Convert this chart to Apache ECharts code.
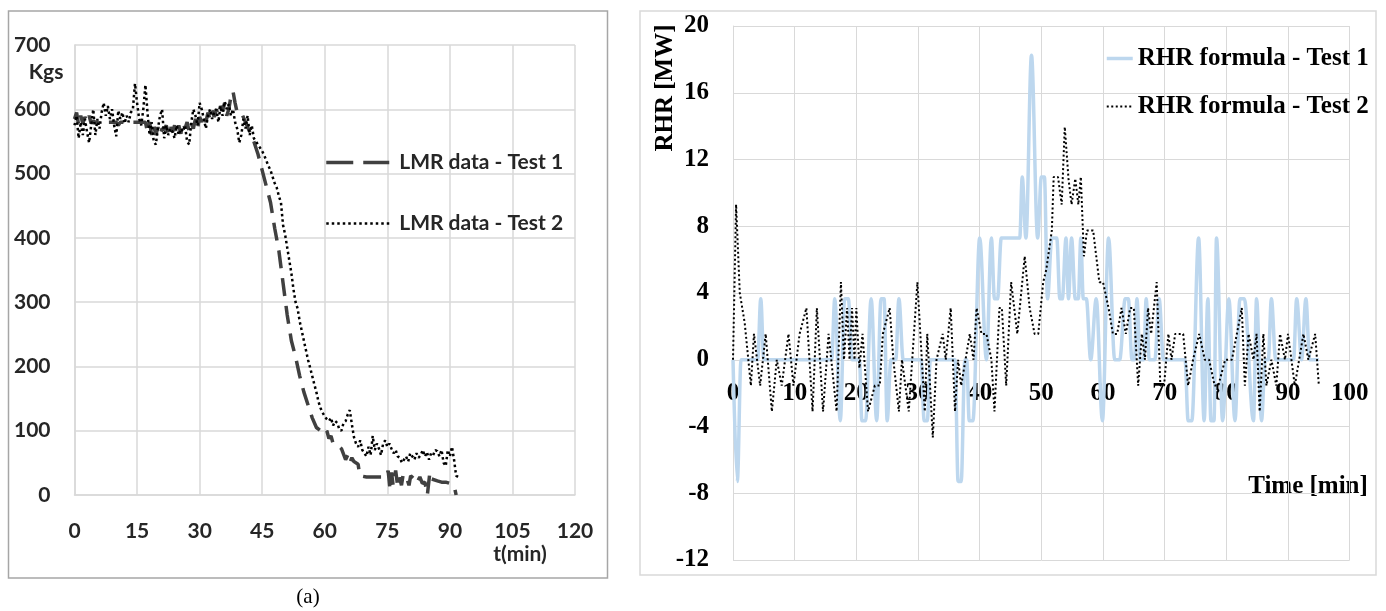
<!DOCTYPE html>
<html>
<head>
<meta charset="utf-8">
<title>LMR data and RHR formula</title>
<script src="https://cdn.jsdelivr.net/npm/echarts@6/dist/echarts.min.js"></script>
<style>
  html, body { margin: 0; padding: 0; background: #ffffff; }
  #chart { width: 1386px; height: 611px; }
</style>
</head>
<body>
<div id="chart"></div>
<script>
// ---- Panel (a): load-cell mass readings, kg against time in minutes ----
const lmrXAxis = { min: 0, max: 120, interval: 15 };
const lmrYAxis = { min: 0, max: 700, interval: 100 };

// Test 1: [time (min), mass (kg)]
const lmrTest1 = [
  [0,585],[0.5,595],[1,575],[1.5,590],[2,578],[2.5,588],[3,580],[3.5,590],[4,578],[4.5,582],
  [5,580],[10,580],[10.5,575],[11,580],[15,580],[17,580],[17.5,565],[18,580],[18.5,560],[19,575],
  [19.5,560],[20,572],[20.5,560],[21,570],[21.5,568],[22,575],[22.5,560],[23,572],[23.5,565],[24,575],
  [24.5,560],[25,575],[25.5,562],[26,580],[26.5,570],[27,580],[27.5,565],[28,578],[28.5,570],[29,585],
  [29.5,570],[30,588],[30.5,580],[31,592],[31.5,580],[32,595],[32.5,585],[33,598],[33.5,588],[34,600],
  [34.5,590],[35,605],[35.5,598],[36,610],[36.5,590],[37,600],[37.5,620],[38,628],[38.5,610],[39,595],
  [40,595],[41,580],[42,565],[43,550],[44,530],[45,505],[46,480],[47,455],[48,415],[49,380],
  [50,330],[51,280],[52,240],[53,215],[54,185],[55,160],[56,140],[57,120],[58,105],[59,100],
  [60,95],[60.5,100],[61,88],[61.5,92],[62,80],[63,78],[64,72],[65,55],[65.5,62],[66,50],
  [66.5,58],[67,52],[68,48],[68.4,30],[70,28],[72,28],[74.8,28],[75.2,38],[75.6,12],[76,35],
  [76.4,15],[77,38],[77.4,18],[77.8,30],[78.4,15],[78.8,32],[79.5,30],[80.2,15],[80.6,30],[81.4,25],
  [82,18],[82.8,28],[83.4,18],[84,20],[84.6,0],[85.2,35],[85.6,25],[86,28],[87,22],[88,20],
  [89,20],[90,18],[91,15],[91.5,0]
];

// Test 2: one reading every half minute from t = 0
const lmrTest2Step = 0.5;
const lmrTest2 = [
  575,590,555,580,560,585,565,548,575,600,   // 0 - 4.5
  560,585,570,595,610,590,605,585,600,575,   // 5 - 9.5
  558,598,585,595,578,590,580,595,600,640,   // 10 - 14.5
  610,585,575,600,638,595,560,580,550,545,   // 15 - 19.5
  570,590,600,555,575,560,570,565,555,575,   // 20 - 24.5
  560,570,565,575,550,545,580,600,590,575,   // 25 - 29.5
  610,600,585,570,590,600,585,595,600,580,   // 30 - 34.5
  605,590,612,600,608,590,600,580,570,548,   // 35 - 39.5
  560,585,570,590,560,575,555,550,545,540,   // 40 - 44.5
  535,528,520,512,505,495,485,478,465,455,   // 45 - 49.5
  420,405,385,365,345,320,300,290,270,255,   // 50 - 54.5
  240,225,210,198,185,172,160,145,135,128,   // 55 - 59.5
  122,118,115,120,108,115,112,102,100,112,   // 60 - 64.5
  115,125,132,110,90,80,75,85,70,65,         // 65 - 69.5
  60,75,62,92,70,80,72,62,80,85,             // 70 - 74.5
  75,80,72,65,70,60,58,50,55,60,             // 75 - 79.5
  52,65,60,55,65,58,62,70,60,67,             // 80 - 84.5
  55,65,62,70,68,60,70,50,45,70,             // 85 - 89.5
  60,75,55,30,28                             // 90 - 92
];

// ---- Panel (b): rate of heat release, MW against time in minutes ----
const rhrXAxis = { min: 0, max: 100, interval: 10 };
const rhrYAxis = { min: -12, max: 20, interval: 4 };

// Test 1: [time (min), RHR (MW)]
const rhrTest1 = [
  [0,0],[0.7,-7.3],[1.3,0],[4,0],[4.5,3.65],[5,0],[16,0],[16.5,3.65],[17.4,-3.65],[18.1,3.65],
  [18.7,3.65],[19.3,0],[20.5,0],[20.9,-3.65],[21.5,-3.65],[22.4,3.65],[23.3,-3.65],[24,3.65],[24.5,3.65],[25,-3.65],
  [25.6,0],[26.4,0],[26.9,3.65],[27.6,0],[30.5,0],[31,-3.65],[31.5,-3.65],[32,0],[36,0],[36.5,-7.3],
  [37,-7.3],[37.6,0],[37.9,0],[38.3,-3.65],[38.9,-3.65],[40,7.3],[41.1,0],[41.9,7.3],[42.4,3.65],[42.9,3.65],
  [43.5,7.3],[46.5,7.3],[46.9,10.95],[47.5,7.3],[48.4,18.25],[49.4,7.3],[50,10.95],[50.5,10.95],[51,3.65],[51.7,7.3],
  [52.5,7.3],[53,3.65],[53.4,3.65],[54,7.3],[54.4,3.65],[54.9,7.3],[55.5,3.65],[56,3.65],[56.4,7.3],[56.8,3.65],
  [57.3,3.65],[58,0],[58.9,3.65],[59.9,-3.65],[60.9,7.3],[61.9,0],[62.7,0],[63.6,3.65],[64.1,3.65],[64.7,0],
  [65.1,0],[65.5,3.65],[66,0],[66.6,0],[67,3.65],[67.5,0],[68.4,0],[69.1,3.65],[69.8,0],[73.3,0],
  [73.8,-3.65],[74.4,-3.65],[75.5,7.3],[76.4,-3.65],[77,3.65],[77.5,-3.65],[78,-3.65],[78.4,7.3],[79.4,-3.65],[80.4,3.65],
  [81.4,-3.65],[82.2,3.65],[82.9,3.65],[84.4,-3.65],[84.9,3.65],[85.7,-3.65],[86.3,0],[86.8,0],[87.3,3.65],[88,0],
  [90.9,0],[91.4,3.65],[92.2,0],[92.9,3.65],[93.5,0],[95,0]
];

// Test 2: [time (min), RHR (MW)]
const rhrTest2 = [
  [0,0],[0.5,9.3],[1.1,4.0],[1.9,2.2],[2.9,-1.55],[3.4,1.55],[4.4,-1.55],[5.3,1.55],[6.3,-3.1],[7.1,0],
  [7.9,-1.55],[9,1.55],[9.8,-1.55],[10.8,1.55],[11.9,3.1],[12.9,-3.1],[13.6,3.1],[14.6,-3.1],[15.5,1.55],[16.8,-3.1],
  [17.5,4.65],[18,0],[18.5,3.1],[18.9,0],[19.3,3.1],[19.7,0],[20,3.1],[20.5,-0.5],[21,1.55],[21.9,-3.1],
  [23,-1.55],[23.8,-1.55],[24.3,1.55],[25.4,3.1],[26,0],[26.9,-3.1],[27.4,0],[28.5,-3.1],[29.9,4.65],[31.1,-3.1],
  [31.5,1.55],[32.4,-4.65],[33,0],[34,1.55],[34.5,0],[35.3,3.1],[36,-3.1],[36.5,0],[37,-1.55],[38.4,1.55],
  [39,0],[39.5,3.1],[40.3,1.55],[41.1,1.55],[41.9,0],[42.4,-3.1],[43.2,3.1],[43.6,3.1],[44.3,-1.55],[45.1,4.65],
  [46.1,1.55],[47.3,6.2],[48.1,3.1],[48.9,1.55],[49.5,1.55],[50.3,4.65],[50.8,5.4],[51.7,7.75],[52,10.95],[52.7,10.95],
  [53.3,9.3],[53.8,13.95],[54.4,10.85],[54.9,9.3],[55.5,10.85],[56,9.3],[56.4,10.95],[56.9,6.2],[57.4,7.75],[58.4,7.75],
  [59.4,4.65],[60,4.65],[60.9,3.1],[61.6,1.55],[62.3,1.55],[63,3.1],[63.7,1.55],[64.4,3.1],[65,3.1],[65.7,-1.55],
  [66.3,1.55],[66.8,0],[67.3,3.1],[67.8,1.55],[68.7,4.65],[69.3,-1.55],[69.9,-1.55],[70.6,1.55],[71.1,0],[71.7,1.55],
  [72.5,1.55],[73,1.55],[73.8,-1.55],[74.6,0],[75.6,1.55],[76.5,0],[77.2,0],[78.1,-1.55],[78.7,-1.55],[79.8,0],
  [80.9,0],[81.7,1.55],[82.5,3.1],[83,-1.55],[83.6,1.55],[84.4,0],[84.9,1.55],[85.4,-3.1],[86,1.55],[86.5,-1.55],
  [87.3,0],[88.1,-1.55],[88.7,1.55],[89.5,0],[90,1.55],[91.1,-1.55],[92.5,1.55],[93.3,0],[94.4,1.55],[95,-1.55]
];

// Pair the half-minute readings of test 2 with their times
const lmrTest2Points = lmrTest2.map((v, i) => [i * lmrTest2Step, v]);

const sansBold = { fontFamily: 'Lato', fontWeight: 'bold', fontSize: 21, color: '#262626' };
const serifBold = { fontFamily: 'Liberation Serif', fontWeight: 'bold', fontSize: 25, color: '#000000' };

const chart = echarts.init(document.getElementById('chart'), null, { renderer: 'canvas' });

// Panel (b) plot box; the time labels sit on the zero line, so a label-only
// grid covers the upper part of the plot (from the top down to RHR = 0).
const rhrBox = { left: 733, top: 26, width: 616.7, height: 534 };
const rhrZeroFraction = rhrYAxis.max / (rhrYAxis.max - rhrYAxis.min);

chart.setOption({
  backgroundColor: '#ffffff',
  animation: false,
  grid: [
    { left: 74.5, top: 45, width: 500.5, height: 450, containLabel: false },
    { ...rhrBox, containLabel: false },
    { left: rhrBox.left, top: rhrBox.top, width: rhrBox.width,
      height: rhrBox.height * rhrZeroFraction, containLabel: false }
  ],
  xAxis: [
    {
      gridIndex: 0, type: 'value', ...lmrXAxis,
      axisLine: { show: true, lineStyle: { color: '#d9d9d9', width: 1.5 } },
      axisTick: { show: false },
      splitLine: { show: true, lineStyle: { color: '#d9d9d9', width: 1.5 } },
      axisLabel: { ...sansBold, margin: 26 }
    },
    {
      gridIndex: 1, type: 'value', ...rhrXAxis,
      axisLine: { show: false },
      axisTick: { show: false },
      splitLine: { show: true, lineStyle: { color: '#d9d9d9', width: 1 } },
      axisLabel: { show: false }
    },
    {
      gridIndex: 2, type: 'value', ...rhrXAxis,
      axisLine: { show: false },
      axisTick: { show: false },
      splitLine: { show: false },
      axisLabel: { ...serifBold, margin: 21 }
    }
  ],
  yAxis: [
    {
      gridIndex: 0, type: 'value', ...lmrYAxis,
      axisLine: { show: true, lineStyle: { color: '#d9d9d9', width: 1.5 } },
      axisTick: { show: false },
      splitLine: { show: true, lineStyle: { color: '#d9d9d9', width: 1.5 } },
      axisLabel: { ...sansBold, margin: 24 }
    },
    {
      gridIndex: 1, type: 'value', ...rhrYAxis,
      axisLine: { show: true, onZero: false, lineStyle: { color: '#d9d9d9', width: 1 } },
      axisTick: { show: false },
      splitLine: { show: true, lineStyle: { color: '#d9d9d9', width: 1 } },
      axisLabel: { ...serifBold, margin: 24 }
    },
    {
      gridIndex: 2, type: 'value', min: 0, max: rhrYAxis.max, show: false
    }
  ],
  legend: [
    {
      orient: 'vertical', left: 319.5, top: 147,
      itemWidth: 63, itemHeight: 24, itemGap: 40,
      data: [
        { name: 'LMR data - Test 1', lineStyle: { width: 3.5, type: [27, 10], cap: 'butt' } },
        { name: 'LMR data - Test 2', lineStyle: { width: 2.5, type: [2.5, 3], cap: 'butt' } }
      ],
      itemStyle: { opacity: 0 },
      textStyle: { ...sansBold, padding: [0, 0, 0, 5] },
      selectedMode: false
    },
    {
      orient: 'vertical', left: 1100, top: 41,
      itemWidth: 26, itemHeight: 25, itemGap: 23,
      data: [
        { name: 'RHR formula - Test 1', lineStyle: { width: 3.5 } },
        { name: 'RHR formula - Test 2', lineStyle: { width: 2, type: [2, 2.5], cap: 'butt' } }
      ],
      itemStyle: { opacity: 0 },
      textStyle: { ...serifBold },
      selectedMode: false
    }
  ],
  series: [
    {
      name: 'LMR data - Test 1', type: 'line', xAxisIndex: 0, yAxisIndex: 0,
      data: lmrTest1, symbol: 'none', z: 3,
      lineStyle: { color: '#404040', width: 3.5, type: [18, 10], cap: 'butt' },
      itemStyle: { color: '#404040' }
    },
    {
      name: 'LMR data - Test 2', type: 'line', xAxisIndex: 0, yAxisIndex: 0,
      data: lmrTest2Points, symbol: 'none', z: 4,
      lineStyle: { color: '#000000', width: 2.5, type: [2.5, 3], cap: 'butt' },
      itemStyle: { color: '#000000' }
    },
    {
      name: 'RHR formula - Test 1', type: 'line', xAxisIndex: 1, yAxisIndex: 1,
      data: rhrTest1, symbol: 'none', z: 3,
      smooth: 0.35, smoothMonotone: 'x',
      lineStyle: { color: '#bdd7ee', width: 3.5 },
      itemStyle: { color: '#bdd7ee' }
    },
    {
      name: 'RHR formula - Test 2', type: 'line', xAxisIndex: 1, yAxisIndex: 1,
      data: rhrTest2, symbol: 'none', z: 4,
      lineStyle: { color: '#000000', width: 2, type: [2, 2.5], cap: 'butt' },
      itemStyle: { color: '#000000' }
    }
  ],
  graphic: [
    {
      type: 'rect', silent: true, z: 0,
      shape: { x: 8.5, y: 11, width: 599, height: 567 },
      style: { fill: 'none', stroke: '#a6a6a6', lineWidth: 1.5 }
    },
    {
      type: 'rect', silent: true, z: 0,
      shape: { x: 640, y: 11, width: 736, height: 564 },
      style: { fill: 'none', stroke: '#d9d9d9', lineWidth: 1.5 }
    },
    {
      type: 'text', x: 46, y: 72.5, silent: true,
      style: { text: 'Kgs', align: 'center', verticalAlign: 'middle',
               font: 'bold 21px Lato', fill: '#262626' }
    },
    {
      type: 'text', x: 520, y: 554, silent: true,
      style: { text: 't(min)', align: 'center', verticalAlign: 'middle',
               font: 'bold 21px Lato', fill: '#262626' }
    },
    {
      type: 'text', x: 308, y: 597, silent: true,
      style: { text: '(a)', align: 'center', verticalAlign: 'middle',
               font: '21px "Liberation Serif"', fill: '#000000' }
    },
    {
      type: 'text', x: 1308, y: 487, silent: true,
      style: { text: 'Time [min]', align: 'center', verticalAlign: 'middle',
               font: 'bold 25px "Liberation Serif"', fill: '#000000' }
    },
    {
      type: 'text', x: 666, y: 88, rotation: Math.PI / 2, silent: true,
      style: { text: 'RHR [MW]', align: 'center', verticalAlign: 'middle',
               font: 'bold 25px "Liberation Serif"', fill: '#000000' }
    }
  ]
});
</script>
</body>
</html>
